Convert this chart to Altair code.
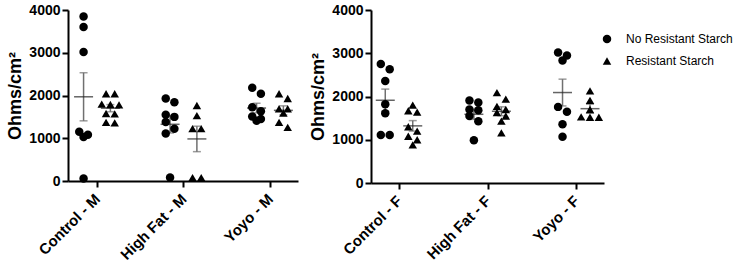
import altair as alt
import pandas as pd

# ---- data (Ohms/cm^2) ----
male_groups = ["Control - M", "High Fat - M", "Yoyo - M"]
female_groups = ["Control - F", "High Fat - F", "Yoyo - F"]
series_names = ["No Resistant Starch", "Resistant Starch"]

male_no_rs = [
    [3850, 3600, 3020, 1150, 1080, 1030, 60],
    [1930, 1840, 1550, 1500, 1380, 1220, 1110, 80],
    [2180, 2040, 1725, 1630, 1510, 1450, 1410],
]
male_rs = [
    [2040, 2040, 1800, 1790, 1780, 1580, 1570, 1370, 1360],
    [1765, 1530, 1225, 1225, 80, 80],
    [2040, 1930, 1690, 1690, 1590, 1370, 1255],
]
female_no_rs = [
    [2750, 2630, 2360, 1820, 1610, 1110, 1110],
    [1910, 1860, 1700, 1680, 1550, 1430, 990],
    [3020, 2950, 2830, 1760, 1650, 1360, 1070],
]
female_rs = [
    [1800, 1670, 1640, 1300, 1200, 1080, 1000, 880],
    [2090, 1940, 1770, 1700, 1630, 1550, 1430, 1160],
    [2130, 1910, 1700, 1530, 1520, 1520],
]

Y_TICKS = [0, 1000, 2000, 3000, 4000]
FONT = "Liberation Sans"


def spread(vals, ypx=0.0428, diam=8.5, step=0.1):
    """Horizontal spreading of overlapping points (scatter-dot layout)."""
    order = sorted(range(len(vals)), key=lambda i: -vals[i])
    rows = []
    for i in order:
        if rows and (vals[rows[-1][0]] - vals[i]) * ypx < diam * 0.5:
            rows[-1].append(i)
        else:
            rows.append([i])
    out = [0.0] * len(vals)
    prev_single = None
    sign = -1
    for r in rows:
        if len(r) > 1:
            n = len(r)
            for j, i in enumerate(r):
                out[i] = (j - (n - 1) / 2) * step
            prev_single = None
        else:
            i = r[0]
            if prev_single is not None and (vals[prev_single] - vals[i]) * ypx < diam:
                if out[prev_single] == 0:
                    out[prev_single] = -step / 2
                    sign = 1
                out[i] = sign * step / 2
                sign = -sign
            else:
                sign = -1
            prev_single = i
    return out


def build(groups, no_rs, rs):
    rows = []
    for gi, g in enumerate(groups):
        for s, table in zip(series_names, [no_rs, rs]):
            vals = table[gi]
            for v, dx in zip(vals, spread(vals)):
                rows.append(dict(group=g, gi=gi, series=s, value=v, jit=dx))
    return pd.DataFrame(rows)


CENTER = "datum.gi + (datum.series == 'No Resistant Starch' ? -0.155 : 0.155)"


def panel(df, groups, width, height, xdom, legend):
    label_expr = " : ".join(
        [f"datum.value == {i} ? '{g}'" for i, g in enumerate(groups)]) + " : ''"
    xs = alt.Scale(domain=xdom, nice=False, zero=False)
    ys = alt.Scale(domain=[0, 4000], nice=False)
    xaxis = alt.Axis(values=[0, 1, 2], labelExpr=label_expr, title=None,
                     labelAngle=-45, labelAlign="right", labelBaseline="middle",
                     labelPadding=9, labelFontSize=15)
    yaxis = alt.Axis(values=Y_TICKS, format="d", title="Ohms/cm²",
                     labelPadding=2, titlePadding=4)
    base = alt.Chart(df)
    pts = base.transform_calculate(
        xp=CENTER + " + datum.jit"
    ).mark_point(filled=True, size=72, opacity=1, color="black").encode(
        x=alt.X("xp:Q", scale=xs, axis=xaxis),
        y=alt.Y("value:Q", scale=ys, axis=yaxis),
        shape=alt.Shape("series:N",
                        scale=alt.Scale(domain=series_names,
                                        range=["circle", "triangle-up"]),
                        legend=legend),
    )
    stats = base.transform_aggregate(
        mean="mean(value)", sem="stderr(value)", groupby=["gi", "series"]
    ).transform_calculate(
        center=CENTER, lo="datum.mean - datum.sem", hi="datum.mean + datum.sem"
    )
    bar = stats.mark_rule(color="#707070", strokeWidth=1.5).encode(
        x=alt.X("center:Q", scale=xs), y=alt.Y("lo:Q", scale=ys), y2="hi:Q")
    cap_lo = stats.mark_tick(orient="horizontal", size=8, thickness=1.5,
                             color="#707070").encode(
        x=alt.X("center:Q", scale=xs), y=alt.Y("lo:Q", scale=ys))
    cap_hi = stats.mark_tick(orient="horizontal", size=8, thickness=1.5,
                             color="#707070").encode(
        x=alt.X("center:Q", scale=xs), y=alt.Y("hi:Q", scale=ys))
    mean = stats.mark_tick(orient="horizontal", size=19, thickness=1.5,
                           color="#222222").encode(
        x=alt.X("center:Q", scale=xs), y=alt.Y("mean:Q", scale=ys))
    return alt.layer(bar, cap_lo, cap_hi, mean, pts).properties(
        width=width, height=height)


left = panel(build(male_groups, male_no_rs, male_rs), male_groups,
             230, 171, [-0.335, 2.324], None)
right = panel(build(female_groups, female_no_rs, female_rs), female_groups,
              233, 173, [-0.316, 2.313],
              alt.Legend(title=None, orient="none", legendX=230, legendY=23,
                         padding=0, labelFont=FONT, labelFontSize=12,
                         labelColor="black", labelOffset=13, rowPadding=7,
                         symbolSize=72, symbolFillColor="black",
                         symbolStrokeColor="black"))

chart = alt.hconcat(left, right, spacing=11).resolve_scale(
    x="independent", y="independent", shape="independent"
).resolve_legend(shape="independent").properties(
    padding={"left": 6, "top": 3, "right": 0, "bottom": 0}
).configure_view(stroke=None).configure_axis(
    grid=False, domainColor="black", domainWidth=2, tickColor="black",
    tickWidth=2, tickSize=6, labelFont=FONT, labelFontWeight="bold",
    labelFontSize=14, labelColor="black", titleFont=FONT,
    titleFontWeight="bold", titleFontSize=18, titleColor="black"
)

chart.save("out.html", embed_options={"renderer": "svg", "actions": False})
